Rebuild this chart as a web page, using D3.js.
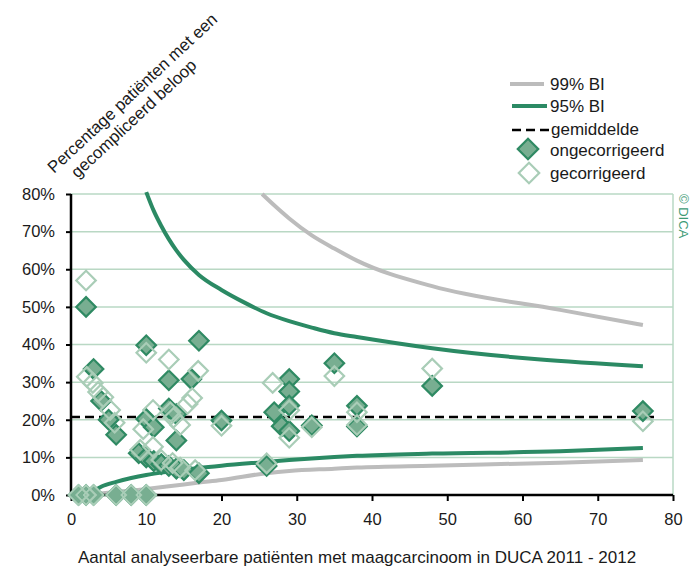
<!DOCTYPE html>
<html>
<head>
<meta charset="utf-8">
<script src="https://cdn.jsdelivr.net/npm/d3@7"></script>
<style>
  html, body { margin: 0; padding: 0; background: #fff; }
  svg { display: block; font-family: "Liberation Sans", Arial, sans-serif; }
</style>
</head>
<body>
<svg id="chart" width="699" height="569"></svg>
<script>
// Hospitals: number of analysable patients (n) and % with a complicated course
const uncorrN   = [1, 2, 3, 6, 8, 10, 2, 3, 4, 5, 6, 9, 10, 11, 12, 13, 14, 15, 17, 10, 10, 11, 13, 13, 14, 14, 16, 17, 20, 26, 27, 28, 29, 29, 29, 29, 32, 35, 38, 38, 48, 76];
const uncorrPct = [0, 0, 0, 0, 0, 0, 50, 33.5, 25, 20, 16, 11.1, 10, 9, 8.2, 7.7, 7, 6.6, 5.8, 39.8, 20.2, 18, 30.5, 23, 21.5, 14.5, 30.8, 41, 19.8, 7.7, 22, 18.3, 30.8, 27.5, 23.8, 17, 18.5, 35, 23.7, 18.2, 29, 22.3];

const corrN   = [1, 2, 3, 6, 8, 10, 2, 2.1, 2.9, 3.6, 4.3, 5.2, 5.8, 10, 13, 16.9, 16.1, 15.5, 10.9, 9.6, 13.6, 14.5, 13.2, 20, 9.2, 10.9, 12, 13.5, 14.5, 16.5, 26, 26.8, 29, 29, 32, 35, 38, 38, 48, 76];
const corrPct = [0, 0, 0, 0, 0, 0, 57, 31.4, 29.8, 27.4, 26, 22.6, 19.2, 37.8, 36, 33, 25.8, 24.2, 22.6, 17.5, 20.5, 18.6, 22, 18.4, 12, 12.8, 9.3, 8.5, 7.3, 6.6, 8.4, 29.8, 22.5, 15.2, 18, 31.6, 22, 18.6, 33.6, 19.6];

// Control limits read along n
const ci95UpperN   = [10, 11, 12, 13, 14, 15, 17, 20, 23, 26, 29, 32, 35, 38, 48, 76];
const ci95UpperPct = [80.5, 75.5, 71.5, 68, 65, 62.5, 58.5, 54.5, 51.2, 48.3, 46.2, 44.5, 43, 42, 39, 34.2];
const ci95LowerN   = [3, 4, 6, 8, 10, 13, 17, 20, 26, 29, 35, 38, 48, 65, 76];
const ci95LowerPct = [1.0, 2.2, 3.5, 4.5, 5.3, 6.2, 7.2, 7.8, 8.8, 9.3, 10.1, 10.4, 11.0, 11.6, 12.5];
const ci99UpperN   = [25.4, 27, 29, 32, 35, 38, 48, 65, 76];
const ci99UpperPct = [80, 77, 73.5, 69, 65.5, 62.3, 55.5, 49.2, 45.2];
const ci99LowerN   = [2.5, 4, 6, 10, 13, 17, 20, 26, 29, 35, 38, 48, 65, 76];
const ci99LowerPct = [0, 0.4, 0.8, 1.6, 2.3, 3.3, 4.0, 5.8, 6.4, 7.0, 7.3, 7.8, 8.6, 9.3];

const meanPct = 20.7;
const meanRange = [0, 77.5];

const xTicks = [0, 10, 20, 30, 40, 50, 60, 70, 80];
const yTicks = [0, 10, 20, 30, 40, 50, 60, 70, 80];

const yTitleLines = ["Percentage patiënten met een", "gecompliceerd beloop"];
const xTitle = "Aantal analyseerbare patiënten met maagcarcinoom in DUCA 2011 - 2012";
const legendLabels = ["99% BI", "95% BI", "gemiddelde", "ongecorrigeerd", "gecorrigeerd"];

const C = {
  green: "#2b8a64",
  gray: "#bcbcbc",
  grid: "#b9d8c4",
  fill: "#78ae91",
  fillStroke: "#2f8a63",
  open: "#a9cdb7",
  dica: "#3c9a74",
  text: "#1a1a1a"
};

const svg = d3.select("#chart");
const x = d3.scaleLinear().domain([0, 80]).range([71, 673]);
const y = d3.scaleLinear().domain([0, 80]).range([495, 194]);

// grid lines
svg.append("g").selectAll("line").data(yTicks.filter(d => d > 0)).join("line")
  .attr("x1", x(0)).attr("x2", x(80))
  .attr("y1", d => y(d)).attr("y2", d => y(d))
  .attr("stroke", C.grid).attr("stroke-width", 1.5);
// right frame
svg.append("line")
  .attr("x1", x(80)).attr("x2", x(80)).attr("y1", y(80)).attr("y2", y(0))
  .attr("stroke", C.grid).attr("stroke-width", 1.5);

const line = d3.line().x(d => x(d[0])).y(d => y(d[1])).curve(d3.curveMonotoneX);
const lineFor = (ns, ps) => line(ns.map((n, i) => [n, ps[i]]));

function drawLimit(ns, ps, color) {
  svg.append("path").attr("d", lineFor(ns, ps))
    .attr("fill", "none").attr("stroke", color).attr("stroke-width", 4)
    .attr("stroke-linejoin", "round");
}
drawLimit(ci99UpperN, ci99UpperPct, C.gray);
drawLimit(ci99LowerN, ci99LowerPct, C.gray);
drawLimit(ci95UpperN, ci95UpperPct, C.green);
drawLimit(ci95LowerN, ci95LowerPct, C.green);

// mean
svg.append("line")
  .attr("x1", x(meanRange[0])).attr("x2", x(meanRange[1]))
  .attr("y1", y(meanPct)).attr("y2", y(meanPct))
  .attr("stroke", "#000").attr("stroke-width", 2.5).attr("stroke-dasharray", "9,5");

// axes
const yAxis = d3.axisLeft(y).tickValues(yTicks).tickFormat(d => d + "%").tickSize(5).tickPadding(11);
const gy = svg.append("g").attr("transform", `translate(${x(0)},0)`).call(yAxis);
const xAxis = d3.axisBottom(x).tickValues(xTicks).tickFormat(d3.format("d")).tickSize(6).tickPadding(12);
const gx = svg.append("g").attr("transform", `translate(0,${y(0)})`).call(xAxis);
[gx, gy].forEach(g => {
  g.select(".domain").attr("stroke", "#000").attr("stroke-width", 2.5);
  g.selectAll(".tick line").attr("stroke", "#000").attr("stroke-width", 2);
  g.selectAll(".tick text").attr("fill", C.text).attr("font-size", 16.5)
    .attr("font-family", "Liberation Sans, Arial, sans-serif");
});
gy.select(".domain").attr("d", `M0,${y(80)}V${y(0)}`);
gx.select(".domain").attr("d", `M${x(0)},0H${x(80)}`);

// markers
const diamond = (size) => d3.symbol().type(d3.symbolSquare).size(size)();
const uncorr = uncorrN.map((n, i) => [n, uncorrPct[i]]);
const corr = corrN.map((n, i) => [n, corrPct[i]]);

svg.append("g").selectAll("path").data(uncorr).join("path")
  .attr("d", diamond(190))
  .attr("transform", d => `translate(${x(d[0])},${y(d[1])}) rotate(45)`)
  .attr("fill", C.fill).attr("stroke", C.fillStroke).attr("stroke-width", 2.2);
svg.append("g").selectAll("path").data(corr).join("path")
  .attr("d", diamond(190))
  .attr("transform", d => `translate(${x(d[0])},${y(d[1])}) rotate(45)`)
  .attr("fill", "none").attr("stroke", C.open).attr("stroke-width", 2.2);

// y title, slanted
const yt = svg.append("text")
  .attr("transform", "translate(54,174) rotate(-43)")
  .attr("text-anchor", "start").attr("font-size", 16.8).attr("fill", C.text);
yt.append("tspan").attr("x", 0).attr("y", 0).text(yTitleLines[0]);
yt.append("tspan").attr("x", 14).attr("y", 19.5).text(yTitleLines[1]);

// x title
svg.append("text").attr("x", 357).attr("y", 563).attr("text-anchor", "middle")
  .attr("font-size", 17).attr("fill", C.text).text(xTitle);

// credit on the right
svg.append("text").attr("transform", "translate(679,194) rotate(90)")
  .attr("font-size", 13).attr("fill", C.dica).text("© DICA");

// legend
const lg = svg.append("g");
const lx = 550, ly = [84, 106, 129, 150, 173];
lg.append("line").attr("x1", 510).attr("x2", 544).attr("y1", ly[0]).attr("y2", ly[0])
  .attr("stroke", C.gray).attr("stroke-width", 4);
lg.append("line").attr("x1", 512).attr("x2", 547).attr("y1", ly[1]).attr("y2", ly[1])
  .attr("stroke", C.green).attr("stroke-width", 4);
lg.append("line").attr("x1", 512).attr("x2", 550).attr("y1", ly[2] + 1).attr("y2", ly[2] + 1)
  .attr("stroke", "#000").attr("stroke-width", 2.5).attr("stroke-dasharray", "9,5");
lg.append("path").attr("d", diamond(210)).attr("transform", `translate(528,${ly[3] - 1}) rotate(45)`)
  .attr("fill", C.fill).attr("stroke", C.fillStroke).attr("stroke-width", 2.2);
lg.append("path").attr("d", diamond(210)).attr("transform", `translate(529,${ly[4]}) rotate(45)`)
  .attr("fill", "none").attr("stroke", C.open).attr("stroke-width", 2.2);
lg.selectAll("text").data(legendLabels).join("text")
  .attr("x", (d, i) => i === 2 ? lx + 1 : lx)
  .attr("y", (d, i) => ly[i]).attr("dy", "0.36em")
  .attr("font-size", 17).attr("fill", C.text).text(d => d);
</script>
</body>
</html>
